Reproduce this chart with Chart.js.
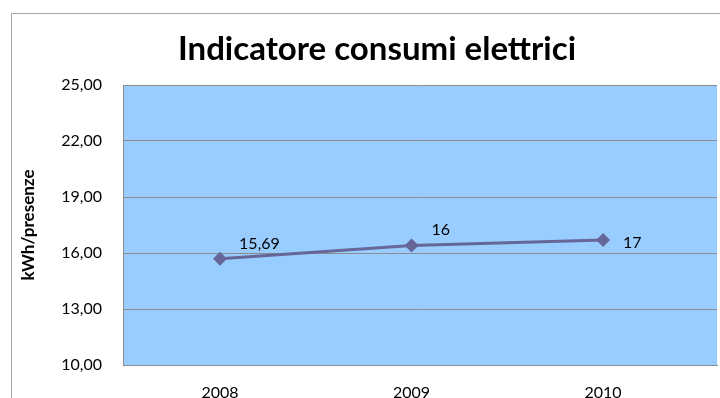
<!DOCTYPE html>
<html>
<head>
<meta charset="utf-8">
<script src="https://cdn.jsdelivr.net/npm/chart.js@4/dist/chart.umd.min.js"></script>
<style>
  html, body { margin: 0; padding: 0; overflow: hidden; background: #fff; }
  #frame { position: absolute; left: 11px; top: 13px; width: 708px; height: 384px; border-top: 1px solid #a6a6a6; border-left: 1px solid #a6a6a6; background: #fff; overflow: hidden; }
  canvas { display: block; }
</style>
</head>
<body>
<div id="frame"><canvas id="c" width="732" height="384"></canvas></div>
<script>
// ---- data ----
const years = [2008, 2009, 2010];
const values = [15.69, 16.4, 16.7];
const valueLabels = ['15,69', '16', '17'];
const yTicks = [10, 13, 16, 19, 22, 25];
const chartTitle = 'Indicatore consumi elettrici';
const yTitle = 'kWh/presenze';

const FONT = 'Lato, "Open Sans", sans-serif';

const plotBg = {
  id: 'plotBg',
  beforeDraw(chart) {
    const { ctx, chartArea: a } = chart;
    ctx.save();
    ctx.fillStyle = '#99ccff';
    ctx.fillRect(a.left, a.top, a.right - a.left, a.bottom - a.top);
    ctx.restore();
  }
};

const labelOffsets = [[19, -15], [20, -16], [20, 3]];
const dataLabels = {
  id: 'dataLabels',
  afterDatasetsDraw(chart) {
    const { ctx } = chart;
    const meta = chart.getDatasetMeta(0);
    ctx.save();
    ctx.font = '16px ' + FONT;
    ctx.fillStyle = '#000';
    ctx.textAlign = 'left';
    ctx.textBaseline = 'middle';
    meta.data.forEach((pt, i) => {
      const o = labelOffsets[i];
      ctx.fillText(valueLabels[i], pt.x + o[0], pt.y + o[1]);
    });
    ctx.restore();
  }
};

new Chart(document.getElementById('c'), {
  type: 'line',
  data: {
    datasets: [{
      data: years.map((y, i) => ({ x: y, y: values[i] })),
      borderColor: '#666699',
      backgroundColor: '#666699',
      borderWidth: 3,
      pointStyle: 'rectRot',
      pointRadius: 7,
      pointBorderWidth: 0,
      tension: 0
    }]
  },
  options: {
    responsive: false,
    animation: false,
    layout: { padding: { left: 0, right: 2, top: 0, bottom: 0 } },
    plugins: {
      legend: { display: false },
      tooltip: { enabled: false },
      title: {
        display: true,
        text: chartTitle,
        color: '#000',
        font: { family: FONT, size: 33, weight: 'bold' },
        padding: { top: 16, bottom: 15.4 }
      }
    },
    scales: {
      x: {
        type: 'linear',
        min: 2007.493,
        max: 2010.595,
        afterBuildTicks: s => { s.ticks = years.map(v => ({ value: v })); },
        afterFit: s => { s.height = 33; },
        ticks: {
          callback: v => String(v),
          color: '#000',
          font: { family: FONT, size: 16 },
          padding: 18,
          autoSkip: false,
          maxRotation: 0
        },
        grid: { display: false, drawTicks: false },
        border: { display: true, color: '#8c8c8c', width: 1 }
      },
      y: {
        min: 10,
        max: 25,
        afterBuildTicks: s => { s.ticks = yTicks.map(v => ({ value: v })); },
        afterFit: s => { s.width = 111; },
        ticks: {
          callback: v => v.toFixed(2).replace('.', ','),
          color: '#000',
          font: { family: FONT, size: 16 },
          padding: 21
        },
        grid: { color: '#8c8c8c', drawTicks: false, lineWidth: 1 },
        border: { display: true, color: '#8c8c8c', width: 1 },
        title: {
          display: true,
          text: yTitle,
          color: '#000',
          font: { family: FONT, size: 17, weight: 'bold' },
          padding: { top: 6, bottom: 0 }
        }
      },
      yRight: {
        axis: 'y',
        position: 'right',
        display: true,
        min: 10,
        max: 25,
        afterFit: s => { s.width = 25; },
        ticks: { display: false },
        grid: { display: false, drawTicks: false },
        border: { display: false }
      }
    }
  },
  plugins: [plotBg, dataLabels]
});
</script>
</body>
</html>
